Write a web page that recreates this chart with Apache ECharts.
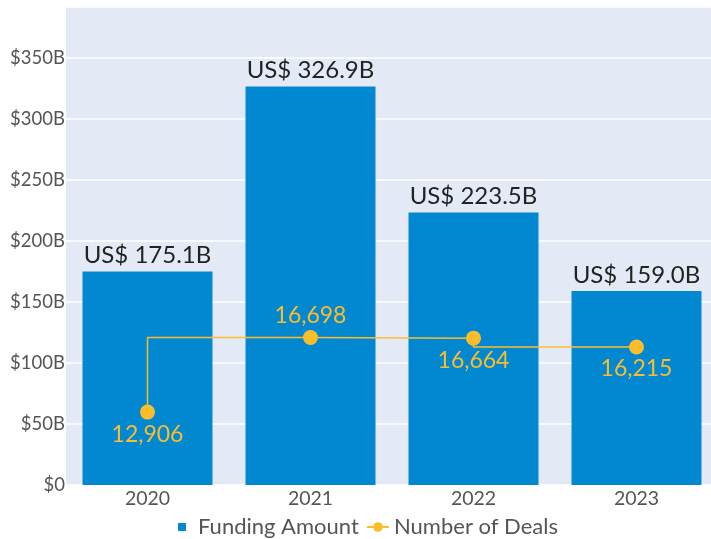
<!DOCTYPE html>
<html>
<head>
<meta charset="utf-8">
<script src="https://cdn.jsdelivr.net/npm/echarts@6/dist/echarts.min.js"></script>
<style>
  html, body { margin: 0; padding: 0; background: #fff; overflow: hidden; }
  /* the plot runs a little past the right edge of the window, as in the original */
  #chart { width: 718px; height: 539px; }
</style>
</head>
<body>
<div id="chart"></div>
<script>
// data
var years = ['2020', '2021', '2022', '2023'];
var funding = [175.1, 326.9, 223.5, 159.0];   // US$ billions
var deals = [12906, 16698, 16664, 16215];
var dealLabelPos = ['bottom', 'top', 'bottom', 'bottom'];

var blue = '#0288d1';
var yellow = '#fbbd2c';
var font = 'Lato';

var chart = echarts.init(document.getElementById('chart'));

var option = {
  animation: false,
  textStyle: { fontFamily: font },
  grid: {
    left: 66,
    top: 7,
    right: 0,
    bottom: 54,
    show: true,
    backgroundColor: '#e4eaf5',
    borderWidth: 0
  },
  legend: [
    {
      data: ['Funding Amount'],
      left: 173,
      top: 511,
      itemWidth: 8,
      itemHeight: 8,
      itemGap: 0,
      icon: 'rect',
      textStyle: { color: '#555', fontSize: 22, fontFamily: font, padding: [0, 0, 0, 7] }
    },
    {
      data: ['Number of Deals'],
      left: 361,
      top: 511,
      itemWidth: 22,
      itemHeight: 12,
      itemGap: 0,
      textStyle: { color: '#555', fontSize: 22, fontFamily: font }
    }
  ],
  xAxis: {
    type: 'category',
    data: years,
    axisLine: { show: false },
    axisTick: { show: false },
    axisLabel: { color: '#555', fontSize: 19.5, margin: 4 }
  },
  yAxis: [
    {
      type: 'value',
      min: 0,
      max: 392,
      interval: 50,
      axisLine: { show: false },
      axisTick: { show: false },
      splitLine: { lineStyle: { color: '#ffffff', width: 1.5 } },
      axisLabel: {
        color: '#555',
        fontSize: 18.5,
        margin: 1,
        showMaxLabel: false,
        formatter: function (v) { return v === 0 ? '$0' : '$' + v + 'B'; }
      }
    },
    {
      type: 'value',
      min: 9200,
      max: 33500,
      show: false,
      splitLine: { show: false }
    }
  ],
  series: [
    {
      name: 'Funding Amount',
      type: 'bar',
      data: funding,
      barWidth: 130,
      itemStyle: { color: blue },
      label: {
        show: true,
        position: 'top',
        distance: 4,
        color: '#222',
        fontSize: 24,
        formatter: function (p) { return 'US$ ' + p.value.toFixed(1) + 'B'; }
      }
    },
    {
      name: 'Number of Deals',
      type: 'line',
      yAxisIndex: 1,
      step: 'start',
      symbol: 'circle',
      symbolSize: 15,
      itemStyle: { color: yellow },
      lineStyle: { color: yellow, width: 1.5 },
      data: deals.map(function (v, i) {
        return { value: v, label: { position: dealLabelPos[i] } };
      }),
      label: {
        show: true,
        color: yellow,
        fontSize: 23,
        distance: 3,
        formatter: function (p) { return p.value.toLocaleString('en-US'); }
      }
    }
  ]
};

chart.setOption(option);
</script>
</body>
</html>
